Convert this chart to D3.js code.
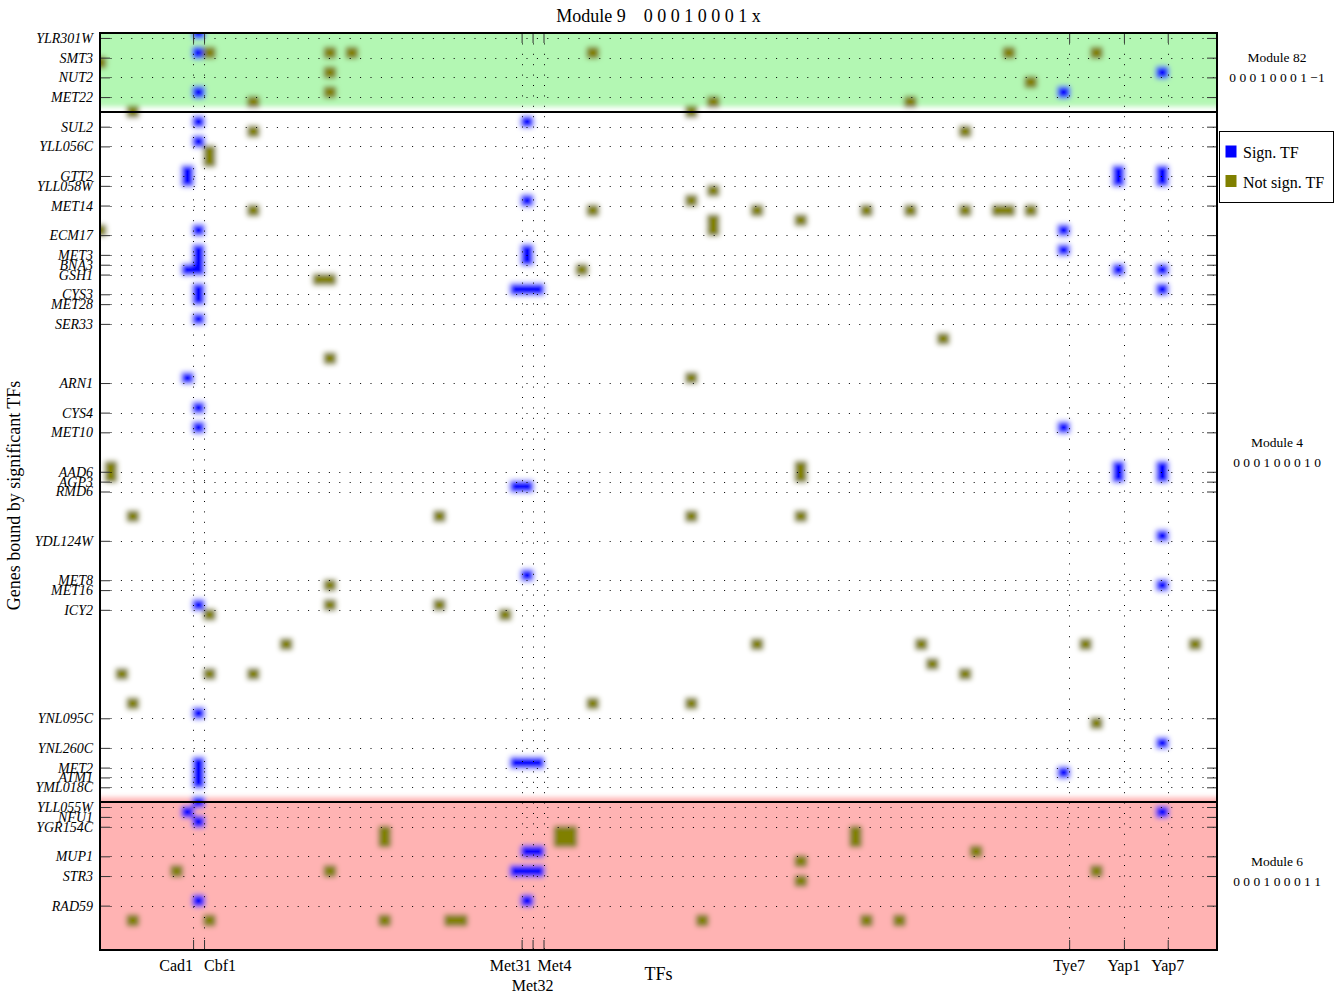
<!DOCTYPE html>
<html><head><meta charset="utf-8">
<script src="https://cdn.jsdelivr.net/npm/d3@7"></script>
<style>
body{margin:0;background:#fff}
text{font-family:"Liberation Serif","Times New Roman",serif;fill:#000}
</style>
</head><body>
<svg id="chart" width="1337" height="993"></svg>
<script>
// ---------------- DATA ----------------
const title = "Module 9    0 0 0 1 0 0 0 1 x";
const nCols = 102, nRows = 93;
const tfNames = ["Cad1","Cbf1","Met31","Met32","Met4","Tye7","Yap1","Yap7"];
const tfCols  = [9, 10, 39, 40, 41, 89, 94, 98];
const geneNames = ["YLR301W","SMT3","NUT2","MET22","SUL2","YLL056C","GTT2","YLL058W","MET14","ECM17",
  "MET3","BNA3","GSH1","CYS3","MET28","SER33","ARN1","CYS4","MET10","AAD6","AGP3","RMD6","YDL124W",
  "MET8","MET16","ICY2","YNL095C","YNL260C","MET2","ATM1","YML018C","YLL055W","NFU1","YGR154C",
  "MUP1","STR3","RAD59"];
const geneRows = [1,3,5,7,10,12,15,16,18,21,23,24,25,27,28,30,36,39,41,45,46,47,52,56,57,59,70,73,75,76,77,79,80,81,84,86,89];
const moduleNames = ["Module 82","Module 4","Module 6"];
const moduleCodes = ["0 0 0 1 0 0 0 1 \u22121","0 0 0 1 0 0 0 1 0","0 0 0 1 0 0 0 1 1"];
const moduleFirstRow = [1, 9, 79];
const moduleLastRow  = [8, 78, 93];
// [column, row] of cells where the TF binds; significant TFs
const sigCells = [
  [10,1],[10,3],[98,5],[10,7],[89,7],[10,10],[40,10],[10,12],[9,15],[9,16],[94,15],[94,16],[98,15],[98,16],
  [40,18],[10,21],[89,21],[10,23],[10,24],[10,25],[9,25],[89,23],[40,23],[40,24],[94,25],[98,25],
  [10,27],[10,28],[39,27],[40,27],[41,27],[98,27],[10,30],[9,36],[10,39],[10,41],[89,41],
  [94,45],[94,46],[98,45],[98,46],[39,47],[40,47],[98,52],[40,56],[98,57],[10,59],[10,70],[98,73],
  [10,75],[10,76],[10,77],[10,79],[39,75],[40,75],[41,75],[89,76],[9,80],[10,81],[98,80],
  [40,84],[41,84],[39,86],[40,86],[41,86],[10,89],[40,89]
];
// not significant TFs
const nonSigCells = [
  [1,4],[11,3],[22,3],[24,3],[46,3],[84,3],[92,3],[22,5],[86,6],[22,7],[15,8],[57,8],[75,8],[4,9],[55,9],
  [15,11],[80,11],[11,13],[11,14],[57,17],[55,18],[15,19],[46,19],[61,19],[71,19],[75,19],[80,19],
  [83,19],[84,19],[86,19],[65,20],[57,20],[57,21],[1,21],[45,25],[21,26],[22,26],[78,32],[22,34],[55,36],
  [2,45],[2,46],[65,45],[65,46],[4,50],[32,50],[55,50],[65,50],[22,57],[22,59],[32,59],[11,60],[38,60],
  [18,63],[61,63],[76,63],[91,63],[101,63],[77,65],[3,66],[11,66],[15,66],[80,66],[4,69],[46,69],[55,69],
  [92,71],[27,82],[27,83],[43,82],[44,82],[43,83],[44,83],[70,82],[70,83],[81,84],[65,85],[8,86],[22,86],
  [92,86],[65,87],[4,91],[11,91],[27,91],[33,91],[34,91],[56,91],[71,91],[74,91]
];

// ---------------- LAYOUT ----------------
const L = 100, R = 1217, T = 33, B = 950;
const svg = d3.select("#chart");
svg.append("rect").attr("width",1337).attr("height",993).attr("fill","#fff");
const x = d3.scaleLinear().domain([0.5, nCols + 0.5]).range([L, R]);
const y = d3.scaleLinear().domain([0.5, nRows + 0.5]).range([T, B]);
const cw = x(1) - x(0), ch = y(1) - y(0);
const bandColor = ["#b3f7b3", null, "#ffb3b3"];

const defs = svg.append("defs");
defs.append("clipPath").attr("id","plotClip").append("rect")
  .attr("x",L).attr("y",T).attr("width",R-L).attr("height",B-T);
const filt = defs.append("filter").attr("id","soft")
  .attr("x","-5%").attr("y","-5%").attr("width","110%").attr("height","110%");
filt.append("feGaussianBlur").attr("stdDeviation",2.6);

const clipG = svg.append("g").attr("clip-path","url(#plotClip)");
const img = clipG.append("g").attr("filter","url(#soft)");
img.append("rect").attr("x",L-30).attr("y",T-30).attr("width",R-L+60).attr("height",B-T+60).attr("fill","#fff");
// module bands (image shifted by half a cell, as in reference)
moduleNames.forEach((m,i) => {
  if (!bandColor[i]) return;
  const y0 = i === 0 ? T - 30 : y(moduleFirstRow[i] - 1);
  const y1 = i === moduleNames.length - 1 ? B + 30 : y(moduleLastRow[i]);
  img.append("rect").attr("x",L-30).attr("width",R-L+60)
    .attr("y",y0).attr("height",y1-y0).attr("fill",bandColor[i]);
});
const cells = sigCells.map(d => ({c:d[0], r:d[1], s:true}))
  .concat(nonSigCells.map(d => ({c:d[0], r:d[1], s:false})));
const fw = 1.18, fh = 1.22;
img.selectAll("rect.cell").data(cells).join("rect").attr("class","cell")
  .attr("x", d => x(d.c - 0.5) - cw*fw/2)
  .attr("y", d => y(d.r - 0.5) - ch*fh/2)
  .attr("width", cw*fw).attr("height", ch*fh)
  .attr("rx", 2).attr("ry", 2)
  .attr("fill", d => d.s ? "#0000ff" : "#808000");

// grid lines
const grid = svg.append("g").attr("stroke","#000").attr("stroke-width",1).attr("stroke-dasharray","1,9.4");
grid.selectAll("line.h").data(geneRows).join("line").attr("class","h")
  .attr("x1",L+10.5).attr("x2",R).attr("y1",d=>Math.round(y(d))+0.5).attr("y2",d=>Math.round(y(d))+0.5);
grid.selectAll("line.v").data(tfCols).join("line").attr("class","v")
  .attr("y1",T).attr("y2",B).attr("x1",d=>Math.round(x(d))+0.5).attr("x2",d=>Math.round(x(d))+0.5);

// module separator lines
svg.selectAll("line.sep").data(moduleLastRow.slice(0,-1)).join("line").attr("class","sep")
  .attr("x1",L).attr("x2",R).attr("y1",d=>y(d+0.5)).attr("y2",d=>y(d+0.5))
  .attr("stroke","#000").attr("stroke-width",2);

// axes
const geneLabel = d => geneNames[geneRows.indexOf(d)];
const ax = svg.append("g").attr("transform",`translate(${L},0)`)
  .call(d3.axisLeft(y).tickValues(geneRows).tickFormat(geneLabel).tickSize(-10).tickPadding(7));
ax.select(".domain").remove();
ax.selectAll(".tick line").attr("stroke","#333");
ax.selectAll(".tick text").attr("font-size",14).attr("font-style","italic")
  .attr("font-family",'"Liberation Serif",serif');
const axR = svg.append("g").attr("transform",`translate(${R},0)`)
  .call(d3.axisRight(y).tickValues(geneRows).tickFormat("").tickSize(-10));
axR.select(".domain").remove(); axR.selectAll(".tick line").attr("stroke","#333");
const axT = svg.append("g").attr("transform",`translate(0,${T})`)
  .call(d3.axisTop(x).tickValues(tfCols).tickFormat("").tickSize(-10));
axT.select(".domain").remove(); axT.selectAll(".tick line").attr("stroke","#333");
const axB = svg.append("g").attr("transform",`translate(0,${B})`)
  .call(d3.axisBottom(x).tickValues(tfCols).tickFormat("").tickSize(-10));
axB.select(".domain").remove(); axB.selectAll(".tick line").attr("stroke","#333");

// TF labels (offsets to avoid overlap, as in reference)
const tfAnchor = ["end","start","middle","middle","middle","middle","middle","middle"];
const tfDx = [0, 0, -11, 0, 11, 0, 0, 0];
const tfDy = [971, 971, 971, 991, 971, 971, 971, 971];
svg.append("g").selectAll("text").data(tfCols).join("text")
  .attr("x",(d,i)=>x(d)+tfDx[i]).attr("y",(d,i)=>tfDy[i])
  .attr("text-anchor",(d,i)=>tfAnchor[i]).attr("font-size",16)
  .text((d,i)=>tfNames[i]);

// frame
svg.append("rect").attr("x",L).attr("y",T).attr("width",R-L).attr("height",B-T)
  .attr("fill","none").attr("stroke","#000").attr("stroke-width",2);

// titles
svg.append("text").attr("x",(L+R)/2).attr("y",22).attr("text-anchor","middle")
  .attr("font-size",18).style("white-space","pre").text(title);
svg.append("text").attr("x",(L+R)/2).attr("y",980).attr("text-anchor","middle")
  .attr("font-size",18).text("TFs");
svg.append("text").attr("transform",`translate(20,${(T+B)/2 + 4}) rotate(-90)`)
  .attr("text-anchor","middle").attr("font-size",18).text("Genes bound by significant TFs");

// module annotations
moduleNames.forEach((m,i) => {
  const mid = (y(moduleFirstRow[i]-0.5) + y(moduleLastRow[i]+0.5))/2 - 5;
  svg.append("text").attr("x",1277).attr("y",mid-5).attr("text-anchor","middle")
    .attr("font-size",13.5).text(m);
  svg.append("text").attr("x",1277).attr("y",mid+15).attr("text-anchor","middle")
    .attr("font-size",13.5).style("white-space","pre").text(moduleCodes[i]);
});

// legend
const lg = svg.append("g");
lg.append("rect").attr("x",1219.5).attr("y",131.5).attr("width",114).attr("height",71)
  .attr("fill","#fff").attr("stroke","#000").attr("stroke-width",1);
const legItems = [["Sign. TF","#0000ff"],["Not sign. TF","#808000"]];
legItems.forEach((it,i) => {
  lg.append("rect").attr("x",1225.5).attr("y",145.5 + i*29.5).attr("width",11).attr("height",12)
    .attr("fill",it[1]);
  lg.append("text").attr("x",1243).attr("y",158 + i*29.5).attr("font-size",16).text(it[0]);
});
</script>
</body></html>
